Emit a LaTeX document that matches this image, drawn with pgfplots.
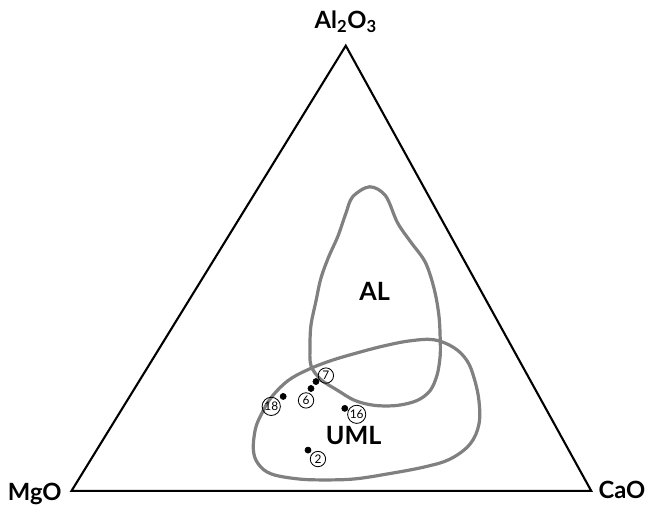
\documentclass[border=0pt]{standalone}
\usepackage{pgfplots}
\pgfplotsset{compat=1.18}
\usepackage{fontspec}
\setmainfont{Lato}
\begin{document}
\begin{tikzpicture}
\begin{axis}[
  width=16.25cm, height=12.75cm,
  scale only axis,
  xmin=0, xmax=650, ymin=0, ymax=510,
  y dir=reverse,
  hide axis,
  clip=false,
]
% bounding box
\draw[draw=none] (rel axis cs:0,0) rectangle (rel axis cs:1,1);

% triangle
\addplot[black, line width=1.5pt, line join=miter] coordinates {
  (72,494) (348,46) (595,494)
} -- cycle;

% AL field
\addplot[gray, line width=2.3pt, smooth cycle, tension=0.55] coordinates {
  (372,188) (388,197) (400,224) (413,243) (427,262) (434,280) (439,300)
  (442,320) (443,340) (443,358) (440,377) (433,393) (420,403) (400,408)
  (377,408) (357,403) (340,393) (323,382) (313,368) (312,348) (313,327)
  (318,303) (323,280) (331,258) (340,238) (348,215) (355,198)
};

% UML field
\addplot[gray, line width=2.3pt, smooth cycle, tension=0.6] coordinates {
  (257,432) (255,453) (260,467) (273,477) (300,482) (327,483) (357,482)
  (390,477) (427,470) (453,462) (473,447) (482,427) (482,403) (477,380)
  (470,363) (457,350) (437,342) (413,343) (387,348) (360,355) (333,363)
  (310,372) (290,383) (273,400) (263,417)
};

% samples
\addplot[only marks, mark=*, mark size=2.2pt, black] coordinates {
  (318,384) (313,391) (285,399) (347,411) (310,453)
};

\tikzset{smp/.style={circle, draw, line width=0.6pt, inner sep=0.5pt,
  minimum size=11pt, font=\fontsize{8.5}{8.5}\selectfont}}
\node[smp] at (axis cs:328,378) {7};
\node[smp] at (axis cs:308,403) {6};
\node[smp] at (axis cs:273,409) {18};
\node[smp] at (axis cs:359,417) {16};
\node[smp] at (axis cs:320,462) {2};

\node[font=\bfseries\fontsize{18}{18}\selectfont] at (axis cs:377,293) {AL};
\node[font=\bfseries\fontsize{18}{18}\selectfont] at (axis cs:356,438) {UML};

\node[font=\bfseries\fontsize{17}{17}\selectfont] at (axis cs:348,22) {Al\textsubscript{2}O\textsubscript{3}};
\node[font=\bfseries\fontsize{17}{17}\selectfont] at (axis cs:35,497) {MgO};
\node[font=\bfseries\fontsize{17}{17}\selectfont] at (axis cs:626,493) {CaO};
\end{axis}
\end{tikzpicture}
\end{document}
